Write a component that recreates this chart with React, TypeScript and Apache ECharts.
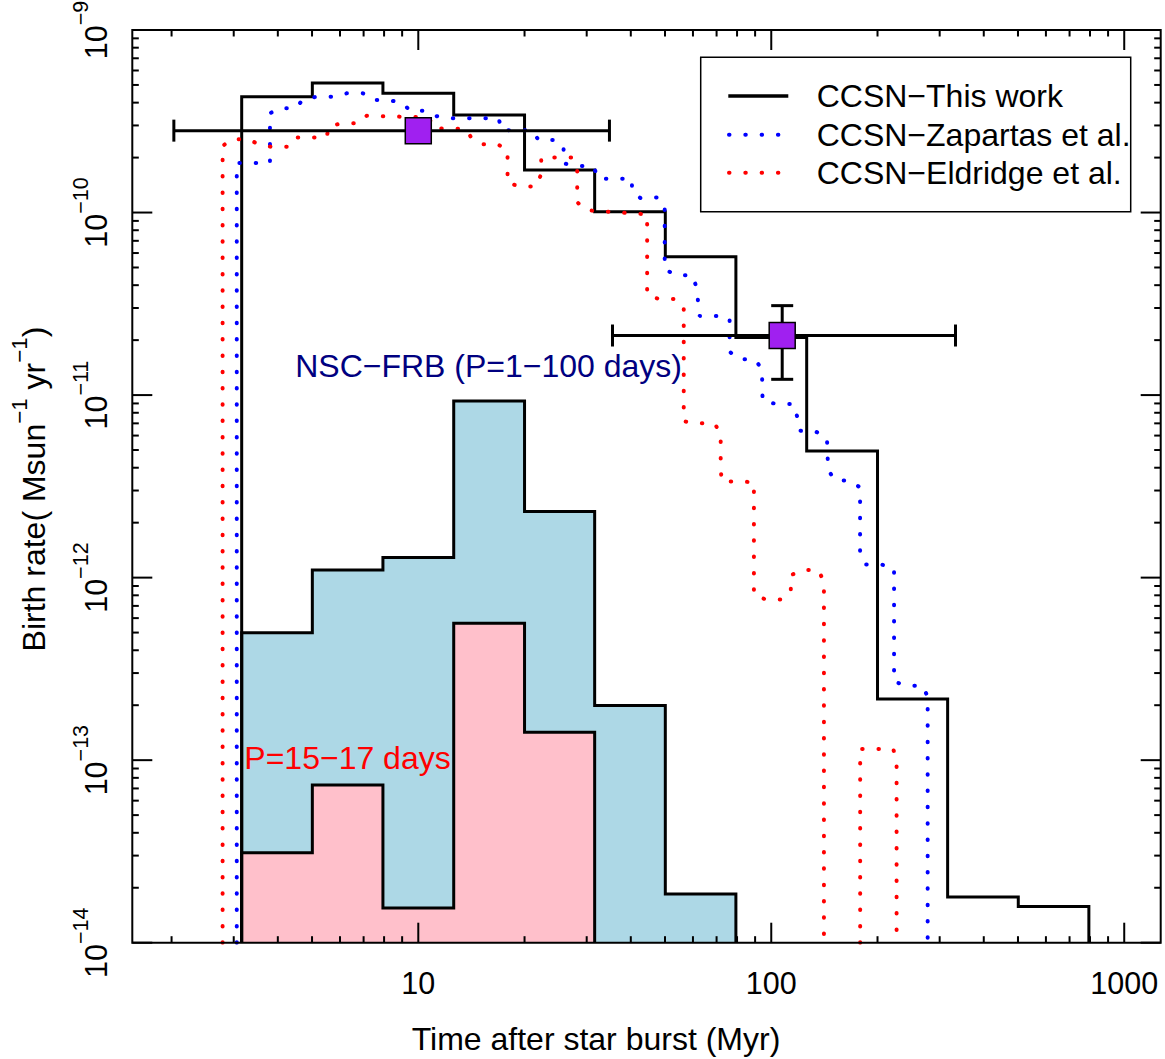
import React, { useEffect, useRef } from "react";
import * as echarts from "echarts";

const FONT = '"Liberation Sans", Arial, Helvetica, sans-serif';

// axis ranges (log scales)
const X_MIN = 1.548;
const X_MAX = 1268.6;
const Y_MIN = 1e-14;
const Y_MAX = 1e-9;

// tick labels
const xMajor = [10, 100, 1000];
const xMajorLabels = ["10", "100", "1000"];
const yMajor = [1e-14, 1e-13, 1e-12, 1e-11, 1e-10, 1e-9];
const yMajorExp = ["\u221214", "\u221213", "\u221212", "\u221211", "\u221210", "\u22129"];

// CCSN - This work (0.2 dex bins)
const ccsnEdges = [3.16, 5.01, 7.94, 12.6, 20.0, 31.6, 50.1, 79.4, 126, 200, 316, 501, 794];
const ccsnRates = [4.31e-10, 5.12e-10, 4.5e-10, 3.42e-10, 1.71e-10, 1.01e-10, 5.73e-11, 2.07e-11, 4.94e-12, 2.16e-13, 1.78e-14, 1.58e-14];

// NSC-FRB (P = 1-100 days)
const frbEdges = [3.16, 5.01, 7.94, 12.6, 20.0, 31.6, 50.1, 79.4];
const frbRates = [4.99e-13, 1.1e-12, 1.29e-12, 9.28e-12, 2.3e-12, 1.99e-13, 1.85e-14];

// P = 15-17 days
const p1517Edges = [3.16, 5.01, 7.94, 12.6, 20.0, 31.6];
const p1517Rates = [3.11e-14, 7.31e-14, 1.55e-14, 5.62e-13, 1.42e-13];

// CCSN - Zapartas et al.
const zapartasT = [3.06, 3.06, 3.8, 3.8, 4.06, 4.5, 4.72, 5.18, 5.78, 6.27, 6.97, 7.4, 8.22, 9.02, 9.47, 10.6, 11.2, 12.3, 16.9, 17.2, 21.0, 21.9, 24.4, 25.8, 25.8, 28.2, 31.3, 32.4, 40.3, 40.3, 42.6, 47.5, 49.9, 49.9, 53.8, 59.8, 61.4, 62.7, 70.0, 76.2, 76.2, 80.8, 89.8, 94.1, 94.5, 104, 115.8, 118.4, 120.4, 133.8, 143.8, 144.9, 152.1, 168.4, 178.5, 178.5, 184.5, 205, 222.8, 222.8, 242, 268, 277.4, 277.4];
const zapartasRate = [1e-14, 1.87e-10, 1.87e-10, 3.5e-10, 3.73e-10, 3.73e-10, 4.19e-10, 4.31e-10, 4.31e-10, 4.5e-10, 4.5e-10, 4.13e-10, 4.13e-10, 4.0e-10, 3.61e-10, 3.61e-10, 3.38e-10, 3.28e-10, 3.28e-10, 2.82e-10, 2.82e-10, 2.5e-10, 2.5e-10, 2.29e-10, 1.86e-10, 1.8e-10, 1.8e-10, 1.53e-10, 1.53e-10, 1.3e-10, 1.2e-10, 1.21e-10, 1.1e-10, 4.89e-11, 4.53e-11, 4.53e-11, 3.89e-11, 2.71e-11, 2.71e-11, 2.64e-11, 1.73e-11, 1.57e-11, 1.57e-11, 1.39e-11, 9.25e-12, 8.93e-12, 8.93e-12, 7.62e-12, 6.38e-12, 6.3e-12, 5.85e-12, 3.87e-12, 3.4e-12, 3.4e-12, 3.11e-12, 1.37e-12, 1.18e-12, 1.18e-12, 1.13e-12, 2.69e-13, 2.56e-13, 2.56e-13, 2.23e-13, 1e-14];

// CCSN - Eldridge et al. (null = gap)
const eldridgeT = [2.79, 2.79, 2.95, 3.29, 3.53, 3.84, 4.28, 4.48, 5.5, 5.58, 6.09, 6.78, 7.14, 10.7, 11.1, 13.6, 14.2, 15.1, 16.8, 17.9, 17.9, 19.5, 21.6, 22.3, 22.3, 27.4, 28.2, 28.2, 29.8, 44.5, 44.5, 48.1, 53.5, 56.5, 56.5, 62.0, 69.0, 71.9, 71.9, 72.3, 89.3, 89.3, 96.5, 107.5, 113.6, 113.6, 122.1, 136.1, 141.0, 141.0, 160, 178.6, 178.6, 221.8, 226.5, 226.5];
const eldridgeRate = [1e-14, 2.31e-10, 2.52e-10, 2.52e-10, 2.37e-10, 2.29e-10, 2.29e-10, 2.58e-10, 2.58e-10, 2.98e-10, 3.08e-10, 3.08e-10, 3.39e-10, 3.32e-10, 2.89e-10, 2.87e-10, 2.54e-10, 2.37e-10, 2.37e-10, 2.18e-10, 1.45e-10, 1.39e-10, 1.39e-10, 1.63e-10, 2.0e-10, 2.0e-10, 1.72e-10, 1.14e-10, 1.03e-10, 9.78e-11, 3.52e-11, 3.36e-11, 3.36e-11, 3.05e-11, 7.18e-12, 7.0e-12, 7.0e-12, 6.17e-12, 4.09e-12, 3.37e-12, 3.34e-12, 8.0e-13, 7.6e-13, 7.6e-13, 8.44e-13, 1.03e-12, 1.1e-12, 1.1e-12, 9.46e-13, 1e-14, null, 1e-14, 1.15e-13, 1.15e-13, 9.5e-14, 1e-14];

// observed birth rates with error bars
const obsT = [10, 107.4];
const obsRate = [2.81e-10, 2.12e-11];
const obsTLow = [2.03, 35.5];
const obsTHigh = [34.8, 332.6];
const obsRateLow = [2.81e-10, 1.22e-11];
const obsRateHigh = [2.81e-10, 3.09e-11];

function stepLine(edges: number[], rates: number[]) {
  const pts: number[][] = [[edges[0], Y_MIN]];
  rates.forEach((r, i) => {
    pts.push([edges[i], r]);
    pts.push([edges[i + 1], r]);
  });
  pts.push([edges[edges.length - 1], Y_MIN]);
  return pts;
}

function minorTicks(lo: number, hi: number, kFrom: number, kTo: number) {
  const out: number[] = [];
  for (let k = kFrom; k <= kTo; k++) {
    for (let m = 2; m <= 9; m++) {
      const v = m * Math.pow(10, k);
      if (v > lo && v < hi) out.push(v);
    }
  }
  return out;
}

const xMinor = minorTicks(X_MIN, X_MAX, 0, 3);
const yMinor = minorTicks(Y_MIN, Y_MAX, -14, -10);

function supRich(base: number, sup: number, raise: number) {
  return {
    b: { fontSize: base, fontFamily: FONT, fill: "#000", lineHeight: base },
    s: { fontSize: sup, fontFamily: FONT, fill: "#000", lineHeight: sup, padding: [0, 0, raise, 0] },
  };
}

const TXT = 32;

export default function App() {
  const ref = useRef<HTMLDivElement>(null);
  useEffect(() => {
    document.body.style.margin = "0";
    document.body.style.overflow = "hidden";
    const chart = echarts.init(ref.current!, null, { renderer: "svg" });

    const dotted = (color: string) => ({
      color,
      width: 4,
      type: [0.5, 15.8],
      cap: "round",
    });

    const option: any = {
      animation: false,
      backgroundColor: "#fff",
      grid: { left: 132.3, right: 4.3, top: 30, bottom: 116.3, containLabel: false },
      xAxis: {
        type: "log",
        logBase: 10,
        min: X_MIN,
        max: X_MAX,
        axisLine: { show: false },
        axisTick: { show: false },
        axisLabel: { show: false },
        splitLine: { show: false },
      },
      yAxis: {
        type: "log",
        logBase: 10,
        min: Y_MIN,
        max: Y_MAX,
        axisLine: { show: false },
        axisTick: { show: false },
        axisLabel: { show: false },
        splitLine: { show: false },
      },
      series: [
        {
          name: "NSC-FRB (P=1-100 days)",
          type: "line",
          data: stepLine(frbEdges, frbRates),
          symbol: "none",
          lineStyle: { color: "#000", width: 3, join: "miter" },
          areaStyle: { color: "#ADD8E6", opacity: 1, origin: "start" },
          z: 2,
        },
        {
          name: "P=15-17 days",
          type: "line",
          data: stepLine(p1517Edges, p1517Rates),
          symbol: "none",
          lineStyle: { color: "#000", width: 3, join: "miter" },
          areaStyle: { color: "#FFC0CB", opacity: 1, origin: "start" },
          z: 3,
        },
        {
          name: "CCSN\u2212This work",
          type: "line",
          data: stepLine(ccsnEdges, ccsnRates),
          symbol: "none",
          lineStyle: { color: "#000", width: 3, join: "miter" },
          z: 4,
        },
        {
          name: "CCSN\u2212Zapartas et al.",
          type: "line",
          data: zapartasT.map((t, i) => [t, zapartasRate[i]]),
          symbol: "none",
          lineStyle: dotted("#0000FF"),
          z: 5,
        },
        {
          name: "CCSN\u2212Eldridge et al.",
          type: "line",
          data: eldridgeT.map((t, i) => [t, eldridgeRate[i] === null ? "-" : eldridgeRate[i]]),
          symbol: "none",
          connectNulls: false,
          lineStyle: dotted("#FF0000"),
          z: 5,
        },
        {
          name: "observed",
          type: "custom",
          z: 8,
          data: obsT.map((t, i) => [t, obsRate[i], obsTLow[i], obsTHigh[i], obsRateLow[i], obsRateHigh[i]]),
          encode: { x: 0, y: 1 },
          renderItem: (params: any, api: any) => {
            const t = api.value(0), r = api.value(1);
            const tl = api.value(2), th = api.value(3);
            const rl = api.value(4), rh = api.value(5);
            const c = api.coord([t, r]);
            const pl = api.coord([tl, r]);
            const ph = api.coord([th, r]);
            const st = { stroke: "#000", lineWidth: 3 };
            const cap = 11;
            const children: any[] = [
              { type: "line", shape: { x1: pl[0], y1: pl[1], x2: ph[0], y2: ph[1] }, style: st },
              { type: "line", shape: { x1: pl[0], y1: pl[1] - cap, x2: pl[0], y2: pl[1] + cap }, style: st },
              { type: "line", shape: { x1: ph[0], y1: ph[1] - cap, x2: ph[0], y2: ph[1] + cap }, style: st },
            ];
            if (rl !== rh) {
              const yl = api.coord([t, rl]);
              const yh = api.coord([t, rh]);
              children.push(
                { type: "line", shape: { x1: yl[0], y1: yl[1], x2: yh[0], y2: yh[1] }, style: st },
                { type: "line", shape: { x1: yl[0] - cap, y1: yl[1], x2: yl[0] + cap, y2: yl[1] }, style: st },
                { type: "line", shape: { x1: yh[0] - cap, y1: yh[1], x2: yh[0] + cap, y2: yh[1] }, style: st }
              );
            }
            children.push({
              type: "rect",
              shape: { x: c[0] - 13, y: c[1] - 13, width: 26, height: 26 },
              style: { fill: "#A020F0", stroke: "#000", lineWidth: 1.5 },
            });
            return { type: "group", children };
          },
        },
        {
          name: "axes",
          type: "custom",
          z: 10,
          silent: true,
          data: [[10, 1e-12]],
          encode: { x: 0, y: 1 },
          renderItem: (params: any, api: any) => {
            const cs = params.coordSys;
            const L = cs.x, T = cs.y, W = cs.width, H = cs.height;
            const R = L + W, B = T + H;
            const ch: any[] = [];
            const tick = (x1: number, y1: number, x2: number, y2: number) =>
              ch.push({ type: "line", shape: { x1, y1, x2, y2 }, style: { stroke: "#000", lineWidth: 2 } });
            const MAJ = 20, MIN = 6.5;
            xMajor.forEach((v, i) => {
              const px = api.coord([v, Y_MIN])[0];
              tick(px, B, px, B - MAJ);
              tick(px, T, px, T + MAJ);
              ch.push({
                type: "text",
                x: px,
                y: B + 40,
                style: { text: xMajorLabels[i], fontSize: 30.5, fontFamily: FONT, fill: "#000", align: "center", verticalAlign: "middle" },
              });
            });
            xMinor.forEach((v) => {
              const px = api.coord([v, Y_MIN])[0];
              tick(px, B, px, B - MIN);
              tick(px, T, px, T + MIN);
            });
            yMajor.forEach((v, i) => {
              const py = api.coord([10, v])[1];
              tick(L, py, L + MAJ, py);
              tick(R, py, R - MAJ, py);
              ch.push({
                type: "text",
                x: L - 36.5,
                y: py,
                rotation: Math.PI / 2,
                style: {
                  text: "{b|10}{s|" + yMajorExp[i] + "}",
                  rich: supRich(30.5, 21.5, 30),
                  align: "center",
                  verticalAlign: "middle",
                },
              });
            });
            yMinor.forEach((v) => {
              const py = api.coord([10, v])[1];
              tick(L, py, L + MIN, py);
              tick(R, py, R - MIN, py);
            });
            ch.push({
              type: "rect",
              shape: { x: L, y: T, width: W, height: H },
              style: { fill: "none", stroke: "#000", lineWidth: 2 },
            });
            return { type: "group", children: ch };
          },
        },
      ],
      graphic: [
        // axis titles
        {
          type: "text",
          x: 596,
          y: 1039,
          z: 100,
          style: { text: "Time after star burst (Myr)", fontSize: TXT, fontFamily: FONT, fill: "#000", align: "center", verticalAlign: "middle" },
        },
        {
          type: "text",
          x: 34.2,
          y: 489,
          rotation: Math.PI / 2,
          z: 100,
          style: {
            text: "{b|Birth rate( Msun}{s|\u22121}{b| yr}{s|\u22121}{b|)}",
            rich: supRich(TXT, 22.4, 30),
            align: "center",
            verticalAlign: "middle",
          },
        },
        // annotations
        {
          type: "text",
          x: 488.6,
          y: 366,
          z: 100,
          style: { text: "NSC\u2212FRB (P=1\u2212100 days)", fontSize: TXT, fontFamily: FONT, fill: "#000080", align: "center", verticalAlign: "middle" },
        },
        {
          type: "text",
          x: 347.5,
          y: 758,
          z: 100,
          style: { text: "P=15\u221217 days", fontSize: TXT, fontFamily: FONT, fill: "#FF0000", align: "center", verticalAlign: "middle" },
        },
        // legend
        {
          type: "rect",
          z: 100,
          shape: { x: 700.7, y: 57.3, width: 430, height: 154.4 },
          style: { fill: "#fff", stroke: "#000", lineWidth: 1.5 },
        },
        {
          type: "line",
          z: 101,
          shape: { x1: 728.3, y1: 96, x2: 788.3, y2: 96 },
          style: { stroke: "#000", lineWidth: 3.5 },
        },
        {
          type: "line",
          z: 101,
          shape: { x1: 729, y1: 134.7, x2: 780, y2: 134.7 },
          style: { stroke: "#0000FF", lineWidth: 4, lineDash: [0.5, 15.8], lineCap: "round" },
        },
        {
          type: "line",
          z: 101,
          shape: { x1: 729, y1: 172.7, x2: 780, y2: 172.7 },
          style: { stroke: "#FF0000", lineWidth: 4, lineDash: [0.5, 15.8], lineCap: "round" },
        },
        {
          type: "text",
          z: 101,
          x: 816.7,
          y: 96,
          style: { text: "CCSN\u2212This work", fontSize: TXT, fontFamily: FONT, fill: "#000", align: "left", verticalAlign: "middle" },
        },
        {
          type: "text",
          z: 101,
          x: 816.7,
          y: 134.7,
          style: { text: "CCSN\u2212Zapartas et al.", fontSize: TXT, fontFamily: FONT, fill: "#000", align: "left", verticalAlign: "middle" },
        },
        {
          type: "text",
          z: 101,
          x: 816.7,
          y: 172.7,
          style: { text: "CCSN\u2212Eldridge et al.", fontSize: TXT, fontFamily: FONT, fill: "#000", align: "left", verticalAlign: "middle" },
        },
      ],
    };

    chart.setOption(option);
    return () => chart.dispose();
  }, []);
  return <div ref={ref} style={{ width: 1165, height: 1059 }} />;
}
